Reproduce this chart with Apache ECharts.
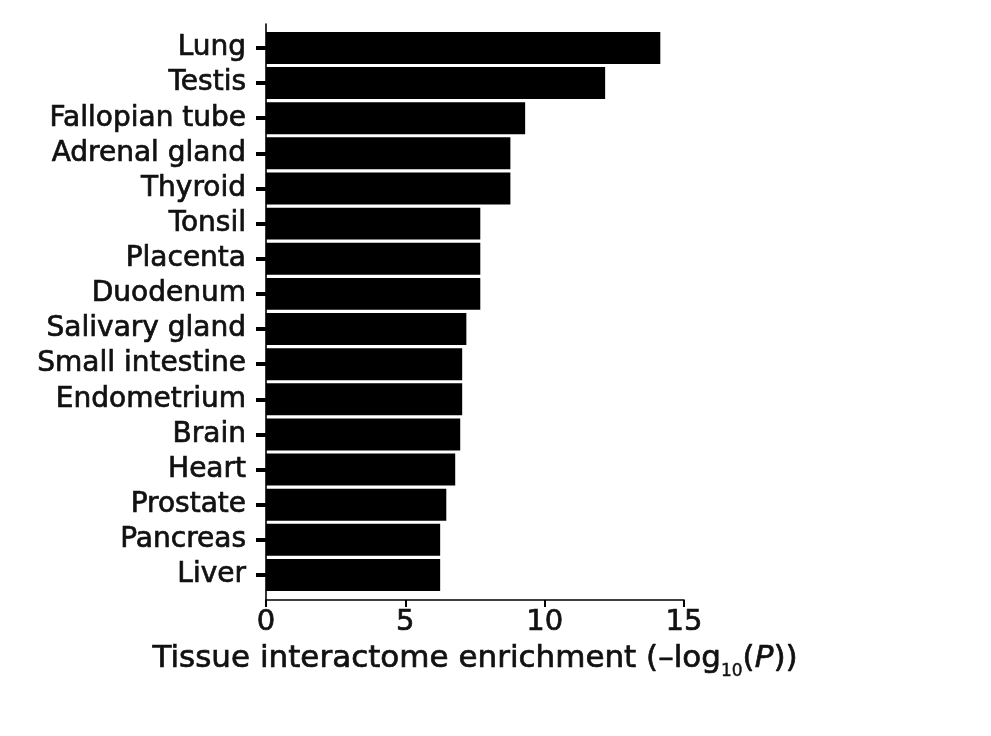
<!DOCTYPE html>
<html>
<head>
<meta charset="utf-8">
<script src="https://cdn.jsdelivr.net/npm/echarts@6/dist/echarts.min.js"></script>
<style>
html,body{margin:0;padding:0;background:#fff;}
#chart{width:991px;height:736px;}
</style>
</head>
<body>
<div id="chart"></div>
<script>
const categories = ['Lung','Testis','Fallopian tube','Adrenal gland','Thyroid','Tonsil','Placenta','Duodenum','Salivary gland','Small intestine','Endometrium','Brain','Heart','Prostate','Pancreas','Liver'];
const values = [14.15, 12.17, 9.30, 8.77, 8.77, 7.69, 7.69, 7.69, 7.19, 7.04, 7.04, 6.97, 6.79, 6.47, 6.25, 6.25];
const xTicks = { min: 0, max: 15, interval: 5 };

const FONT = 'DejaVu Sans';
const TXT = '#111';
const BW = 0.7;

const chart = echarts.init(document.getElementById('chart'), null, {renderer: 'canvas'});
chart.setOption({
  backgroundColor: '#fff',
  animation: false,
  grid: [
    {left: 266, right: 307, top: 30.4, bottom: 143.5, containLabel: false},
    {left: 266, right: 307, top: 24, bottom: 136, containLabel: false}
  ],
  xAxis: [
    {gridIndex: 0, type: 'value', min: xTicks.min, max: xTicks.max, interval: xTicks.interval, show: false},
    {
      gridIndex: 1, type: 'value', min: xTicks.min, max: xTicks.max, interval: xTicks.interval,
      axisLine: {show: true, lineStyle: {color: '#000', width: 1.6}},
      axisTick: {show: true, length: 7, lineStyle: {color: '#000', width: 2}},
      axisLabel: {show: true, margin: 8, color: TXT, fontFamily: FONT, fontSize: 29, textBorderColor: TXT, textBorderWidth: BW},
      splitLine: {show: false},
      name: '{a|Tissue interactome enrichment (\u2013log}{s|10}{a|(}{i|P}{a|))}',
      nameLocation: 'middle',
      nameGap: 37,
      nameMoveOverlap: false,
      nameTextStyle: {
        rich: {
          a: {fontFamily: FONT, fontSize: 31, color: TXT, lineHeight: 44, textBorderColor: TXT, textBorderWidth: BW},
          i: {fontFamily: FONT, fontSize: 31, color: TXT, fontStyle: 'italic', lineHeight: 44, textBorderColor: TXT, textBorderWidth: BW},
          s: {fontFamily: FONT, fontSize: 17, color: TXT, lineHeight: 17, padding: [26, 0, 0, 0], textBorderColor: TXT, textBorderWidth: BW * 0.6}
        }
      }
    }
  ],
  yAxis: [
    {
      gridIndex: 0, type: 'category', data: categories, inverse: true,
      axisLine: {show: false},
      axisTick: {show: true, alignWithLabel: true, length: 10, lineStyle: {color: '#000', width: 4}},
      axisLabel: {show: true, margin: 20, color: TXT, fontFamily: FONT, fontSize: 28, interval: 0, textBorderColor: TXT, textBorderWidth: BW},
      splitLine: {show: false}
    },
    {
      gridIndex: 1, type: 'value', min: 0, max: 1,
      axisLine: {show: true, lineStyle: {color: '#000', width: 1.6}},
      axisTick: {show: false},
      axisLabel: {show: false},
      splitLine: {show: false}
    }
  ],
  series: [
    {
      type: 'bar',
      xAxisIndex: 0, yAxisIndex: 0,
      data: values,
      barCategoryGap: '9%',
      itemStyle: {color: '#000'},
      emphasis: {disabled: true}
    }
  ]
});
</script>
</body>
</html>
